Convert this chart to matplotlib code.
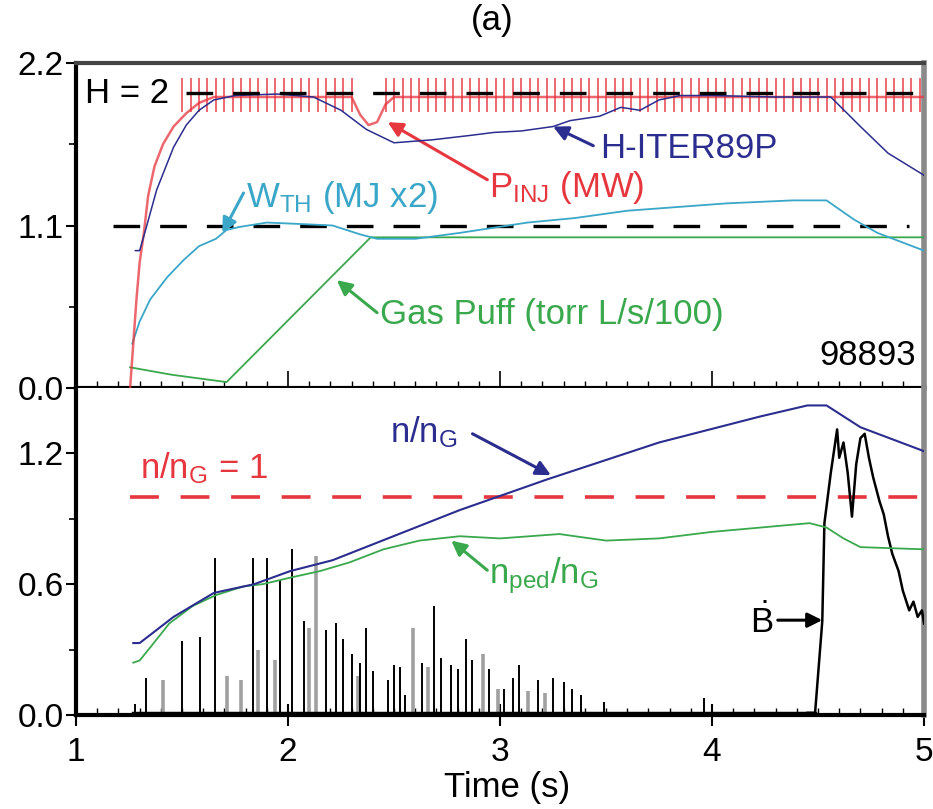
import matplotlib
matplotlib.use('Agg')
import matplotlib.pyplot as plt
from matplotlib.ticker import MultipleLocator, FormatStrFormatter

plt.rcParams['font.family'] = ['Liberation Sans', 'DejaVu Sans']
plt.rcParams['mathtext.fontset'] = 'custom'
plt.rcParams['mathtext.rm'] = 'Liberation Sans'
plt.rcParams['mathtext.it'] = 'Liberation Sans:italic'
plt.rcParams['mathtext.bf'] = 'Liberation Sans:bold'

RED = '#e6363e'
NAVY = '#2b2d8f'
CYAN = '#3aa6c8'
GREEN = '#3aa84c'
GRAY = '#8a8a8a'

# ---- top panel data (shot 98893) ----
pinj_t = [1.255, 1.27, 1.285, 1.30, 1.32, 1.34, 1.37, 1.41, 1.46, 1.52, 1.58, 1.65,
          2.30, 2.34, 2.38, 2.42, 2.46, 2.50, 5.0]
pinj_v = [0.0, 0.30, 0.60, 0.85, 1.05, 1.30, 1.50, 1.65, 1.77, 1.86, 1.93, 1.97,
          1.97, 1.85, 1.78, 1.80, 1.92, 1.97, 1.97]
# beam modulation blips
pinj_blip_t = [1.50, 1.54, 1.58, 1.62, 1.66, 1.70, 1.74, 1.78, 1.82, 1.86, 1.90, 1.94,
               1.98, 2.02, 2.06, 2.10, 2.14, 2.18, 2.22, 2.26, 2.30, 2.46, 2.50, 2.54,
               2.58, 2.62, 2.66, 2.70, 2.74, 2.78, 2.82, 2.86, 2.90, 2.94, 2.98, 3.02,
               3.06, 3.10, 3.14, 3.18, 3.22, 3.26, 3.30, 3.34, 3.38, 3.42, 3.46, 3.50,
               3.54, 3.58, 3.62, 3.66, 3.70, 3.74, 3.78, 3.82, 3.86, 3.90, 3.94, 3.98,
               4.02, 4.06, 4.10, 4.14, 4.18, 4.22, 4.26, 4.30, 4.34, 4.38, 4.42, 4.46,
               4.50, 4.54, 4.58, 4.62, 4.66, 4.70, 4.74, 4.78, 4.82, 4.86, 4.90, 4.94,
               4.98]
pinj_blip_lo = 1.87
pinj_blip_hi = 2.10

h89_t = [1.28, 1.30, 1.33, 1.38, 1.46, 1.52, 1.58, 1.65, 1.75, 1.95, 2.12, 2.25, 2.37,
         2.50, 2.68, 2.86, 2.97, 3.10, 3.25, 3.33, 3.47, 3.57, 3.66, 3.75, 3.85, 4.0,
         4.3, 4.56, 4.70, 4.83, 5.0]
h89_v = [0.93, 0.93, 1.08, 1.34, 1.63, 1.78, 1.88, 1.95, 1.98, 1.99, 1.97, 1.88, 1.75,
         1.66, 1.68, 1.71, 1.73, 1.74, 1.77, 1.81, 1.84, 1.90, 1.88, 1.95, 1.98, 1.98,
         1.97, 1.97, 1.77, 1.59, 1.44]

wth_t = [1.265, 1.30, 1.35, 1.43, 1.51, 1.58, 1.66, 1.71, 1.77, 1.90, 2.06, 2.21, 2.34,
         2.42, 2.60, 2.81, 3.13, 3.35, 3.60, 4.07, 4.38, 4.54, 4.67, 4.78, 5.0]
wth_v = [0.30, 0.45, 0.60, 0.75, 0.87, 0.96, 1.01, 1.07, 1.09, 1.12, 1.11, 1.10, 1.04,
         1.01, 1.01, 1.05, 1.12, 1.15, 1.20, 1.25, 1.27, 1.27, 1.14, 1.05, 0.93]

gas_t = [1.255, 1.45, 1.71, 2.39, 4.60, 5.0]
gas_v = [0.14, 0.09, 0.04, 1.02, 1.02, 1.02]

h2_level, h2_t = 2.0, [1.52, 5.0]
h1_level, h1_t = 1.1, [1.175, 4.93]

# ---- bottom panel data ----
nng_t = [1.27, 1.30, 1.46, 1.65, 1.84, 2.01, 2.21, 2.81, 3.22, 3.75, 4.23, 4.45, 4.54,
         4.70, 5.0]
nng_v = [0.33, 0.33, 0.45, 0.56, 0.60, 0.66, 0.71, 0.94, 1.08, 1.25, 1.37, 1.42, 1.42,
         1.32, 1.21]

nped_t = [1.27, 1.30, 1.35, 1.44, 1.55, 1.66, 1.79, 1.88, 2.01, 2.15, 2.29, 2.45, 2.62,
          2.81, 3.00, 3.28, 3.50, 3.75, 4.00, 4.23, 4.46, 4.54, 4.62, 4.70, 5.0]
nped_v = [0.24, 0.25, 0.31, 0.42, 0.50, 0.55, 0.59, 0.60, 0.63, 0.66, 0.70, 0.76, 0.80,
          0.82, 0.81, 0.83, 0.80, 0.81, 0.84, 0.86, 0.88, 0.86, 0.81, 0.77, 0.76]

greenwald_level, greenwald_t = 1.0, [1.255, 5.0]

# ELM bursts: dark spikes and fainter grey ones
elm_dark_t = [1.28, 1.33, 1.50, 1.585, 1.656, 1.836, 1.90, 1.96, 2.02, 2.075, 2.18,
              2.225, 2.26, 2.30, 2.34, 2.37, 2.40, 2.47, 2.50, 2.53, 2.55, 2.63, 2.69,
              2.72, 2.77, 2.80, 2.84, 2.87, 2.95, 3.02, 3.06, 3.09, 3.18, 3.25, 3.30,
              3.34, 3.38, 3.49, 3.96]
elm_dark_h = [0.05, 0.17, 0.34, 0.36, 0.72, 0.72, 0.72, 0.62, 0.76, 0.43, 0.39,
              0.42, 0.35, 0.28, 0.24, 0.40, 0.20, 0.16, 0.23, 0.22, 0.09, 0.24, 0.50,
              0.26, 0.23, 0.21, 0.35, 0.25, 0.21, 0.12, 0.17, 0.23, 0.16, 0.17, 0.15,
              0.12, 0.09, 0.06, 0.08]
elm_gray_t = [1.41, 1.71, 1.78, 1.86, 1.94, 2.10, 2.13, 2.33, 2.59, 2.66, 2.92, 2.99,
              3.13, 3.21]
elm_gray_h = [0.16, 0.18, 0.16, 0.30, 0.25, 0.40, 0.73, 0.18, 0.40, 0.22, 0.28, 0.12,
              0.11, 0.10]
elm_base_t, elm_base_v = [1.27, 4.486], [0.008, 0.008]

bdot_t = [4.45, 4.486, 4.52, 4.53, 4.56, 4.59, 4.60, 4.62, 4.64, 4.66, 4.68, 4.70,
          4.72, 4.74, 4.76, 4.79, 4.81, 4.83, 4.85, 4.88, 4.90, 4.93, 4.95, 4.97,
          4.99, 5.0]
bdot_v = [0.01, 0.01, 0.43, 0.88, 1.11, 1.31, 1.18, 1.25, 1.11, 0.91, 1.15, 1.27,
          1.29, 1.18, 1.09, 0.98, 0.92, 0.82, 0.74, 0.66, 0.57, 0.48, 0.52, 0.45,
          0.48, 0.42]

FS = 25
TICK_FS = 24


def style_axis(ax, top_panel):
    ax.set_xlim(1, 5)
    for s in ('left', 'bottom'):
        ax.spines[s].set_linewidth(3)
        ax.spines[s].set_color('black')
    ax.spines['right'].set_linewidth(4)
    ax.spines['right'].set_color(GRAY)
    if top_panel:
        ax.spines['top'].set_linewidth(3)
        ax.spines['top'].set_color('#444444')
    else:
        ax.spines['top'].set_visible(False)
    ax.xaxis.set_major_locator(MultipleLocator(1))
    ax.xaxis.set_minor_locator(MultipleLocator(0.1))
    ax.yaxis.set_major_formatter(FormatStrFormatter('%.1f'))
    ax.tick_params(axis='y', which='major', direction='out', length=7, width=1.5,
                   labelsize=TICK_FS, pad=2)
    ax.tick_params(axis='y', which='minor', direction='out', length=5, width=1.2)
    ax.tick_params(axis='x', which='minor', direction='in', length=5, width=1.0)
    if top_panel:
        ax.tick_params(axis='x', which='major', direction='in', length=12, width=1.2,
                       labelbottom=False)
    else:
        ax.tick_params(axis='x', which='major', direction='inout', length=16, width=1.5,
                       labelsize=TICK_FS, pad=8)


def arrow(ax, tail, head, color):
    ax.annotate('', xy=head, xytext=tail,
                arrowprops=dict(arrowstyle='-|>', color=color, lw=2.2,
                                mutation_scale=22, shrinkA=0, shrinkB=0))


fig = plt.figure(figsize=(9.33, 8.09), dpi=100)
ax1 = fig.add_axes([0.0815, 0.5204, 0.9089, 0.4017])
ax2 = fig.add_axes([0.0815, 0.1162, 0.9089, 0.4042])

# ---- top panel ----
ax1.set_ylim(0, 2.2)
ax1.yaxis.set_major_locator(MultipleLocator(1.1))
ax1.yaxis.set_minor_locator(MultipleLocator(0.55))
style_axis(ax1, True)

ax1.plot(h2_t, [h2_level] * 2, color='black', lw=2.4, dashes=(8, 6), zorder=5)
ax1.plot(h1_t, [h1_level] * 2, color='black', lw=2.4, dashes=(8, 6), zorder=2)
ax1.plot(gas_t, gas_v, color=GREEN, lw=1.3, zorder=3)
ax1.plot(wth_t, wth_v, color=CYAN, lw=1.3, zorder=3)
ax1.plot(pinj_t, pinj_v, color=RED, lw=1.8, alpha=0.75, zorder=3)
ax1.vlines(pinj_blip_t, pinj_blip_lo, pinj_blip_hi, color=RED, lw=1.3, alpha=0.8, zorder=3)
ax1.plot(h89_t, h89_v, color=NAVY, lw=1.1, zorder=4)

ax1.text(1.04, 1.93, 'H = 2', fontsize=FS, color='black', va='baseline')
ax1.text(3.47, 1.56, 'H-ITER89P', fontsize=FS, color=NAVY, va='baseline')
arrow(ax1, (3.44, 1.64), (3.25, 1.77), NAVY)
ax1.text(2.95, 1.29, r'P$_\mathrm{INJ}$ (MW)', fontsize=FS, color=RED, va='baseline')
arrow(ax1, (2.94, 1.41), (2.47, 1.80), RED)
ax1.text(1.80, 1.225, r'W$_\mathrm{TH}$ (MJ x2)', fontsize=FS, color=CYAN, va='baseline')
arrow(ax1, (1.79, 1.32), (1.69, 1.05), CYAN)
ax1.text(2.435, 0.43, 'Gas Puff (torr L/s/100)', fontsize=FS, color=GREEN, va='baseline')
arrow(ax1, (2.42, 0.51), (2.23, 0.73), GREEN)
ax1.text(4.96, 0.156, '98893', fontsize=FS, color='black', ha='right', va='baseline')

# ---- bottom panel ----
ax2.set_ylim(0, 1.5)
ax2.yaxis.set_major_locator(MultipleLocator(0.6))
ax2.yaxis.set_minor_locator(MultipleLocator(0.3))
style_axis(ax2, False)

ax2.plot(greenwald_t, [greenwald_level] * 2, color=RED, lw=2.6, dashes=(8, 6), zorder=2)
ax2.vlines(elm_gray_t, 0, elm_gray_h, color='#a0a0a0', lw=2.6, zorder=3)
ax2.vlines(elm_dark_t, 0, elm_dark_h, color='black', lw=1.4, zorder=3)
ax2.plot(elm_base_t, elm_base_v, color='black', lw=2.5, zorder=3)
ax2.plot(bdot_t, bdot_v, color='black', lw=1.8, zorder=3)
ax2.plot(nped_t, nped_v, color=GREEN, lw=1.3, zorder=4)
ax2.plot(nng_t, nng_v, color=NAVY, lw=1.5, zorder=4)

ax2.text(2.48, 1.25, r'n/n$_\mathrm{G}$', fontsize=FS, color=NAVY, va='baseline')
arrow(ax2, (2.87, 1.29), (3.24, 1.10), NAVY)
ax2.text(1.30, 1.086, r'n/n$_\mathrm{G}$ = 1', fontsize=FS, color=RED, va='baseline')
ax2.text(2.95, 0.605, r'n$_\mathrm{ped}$/n$_\mathrm{G}$', fontsize=FS, color=GREEN,
         va='baseline')
arrow(ax2, (2.94, 0.664), (2.77, 0.80), GREEN)
ax2.text(4.18, 0.376, r'$\dot{\mathrm{B}}$', fontsize=FS, color='black', va='baseline')
arrow(ax2, (4.31, 0.435), (4.52, 0.435), 'black')

fig.text(0.528, 0.975, '(a)', fontsize=FS, ha='center', va='center')
fig.text(0.543, 0.026, 'Time (s)', fontsize=FS, ha='center', va='center')

fig.savefig('out.png', dpi=100)
